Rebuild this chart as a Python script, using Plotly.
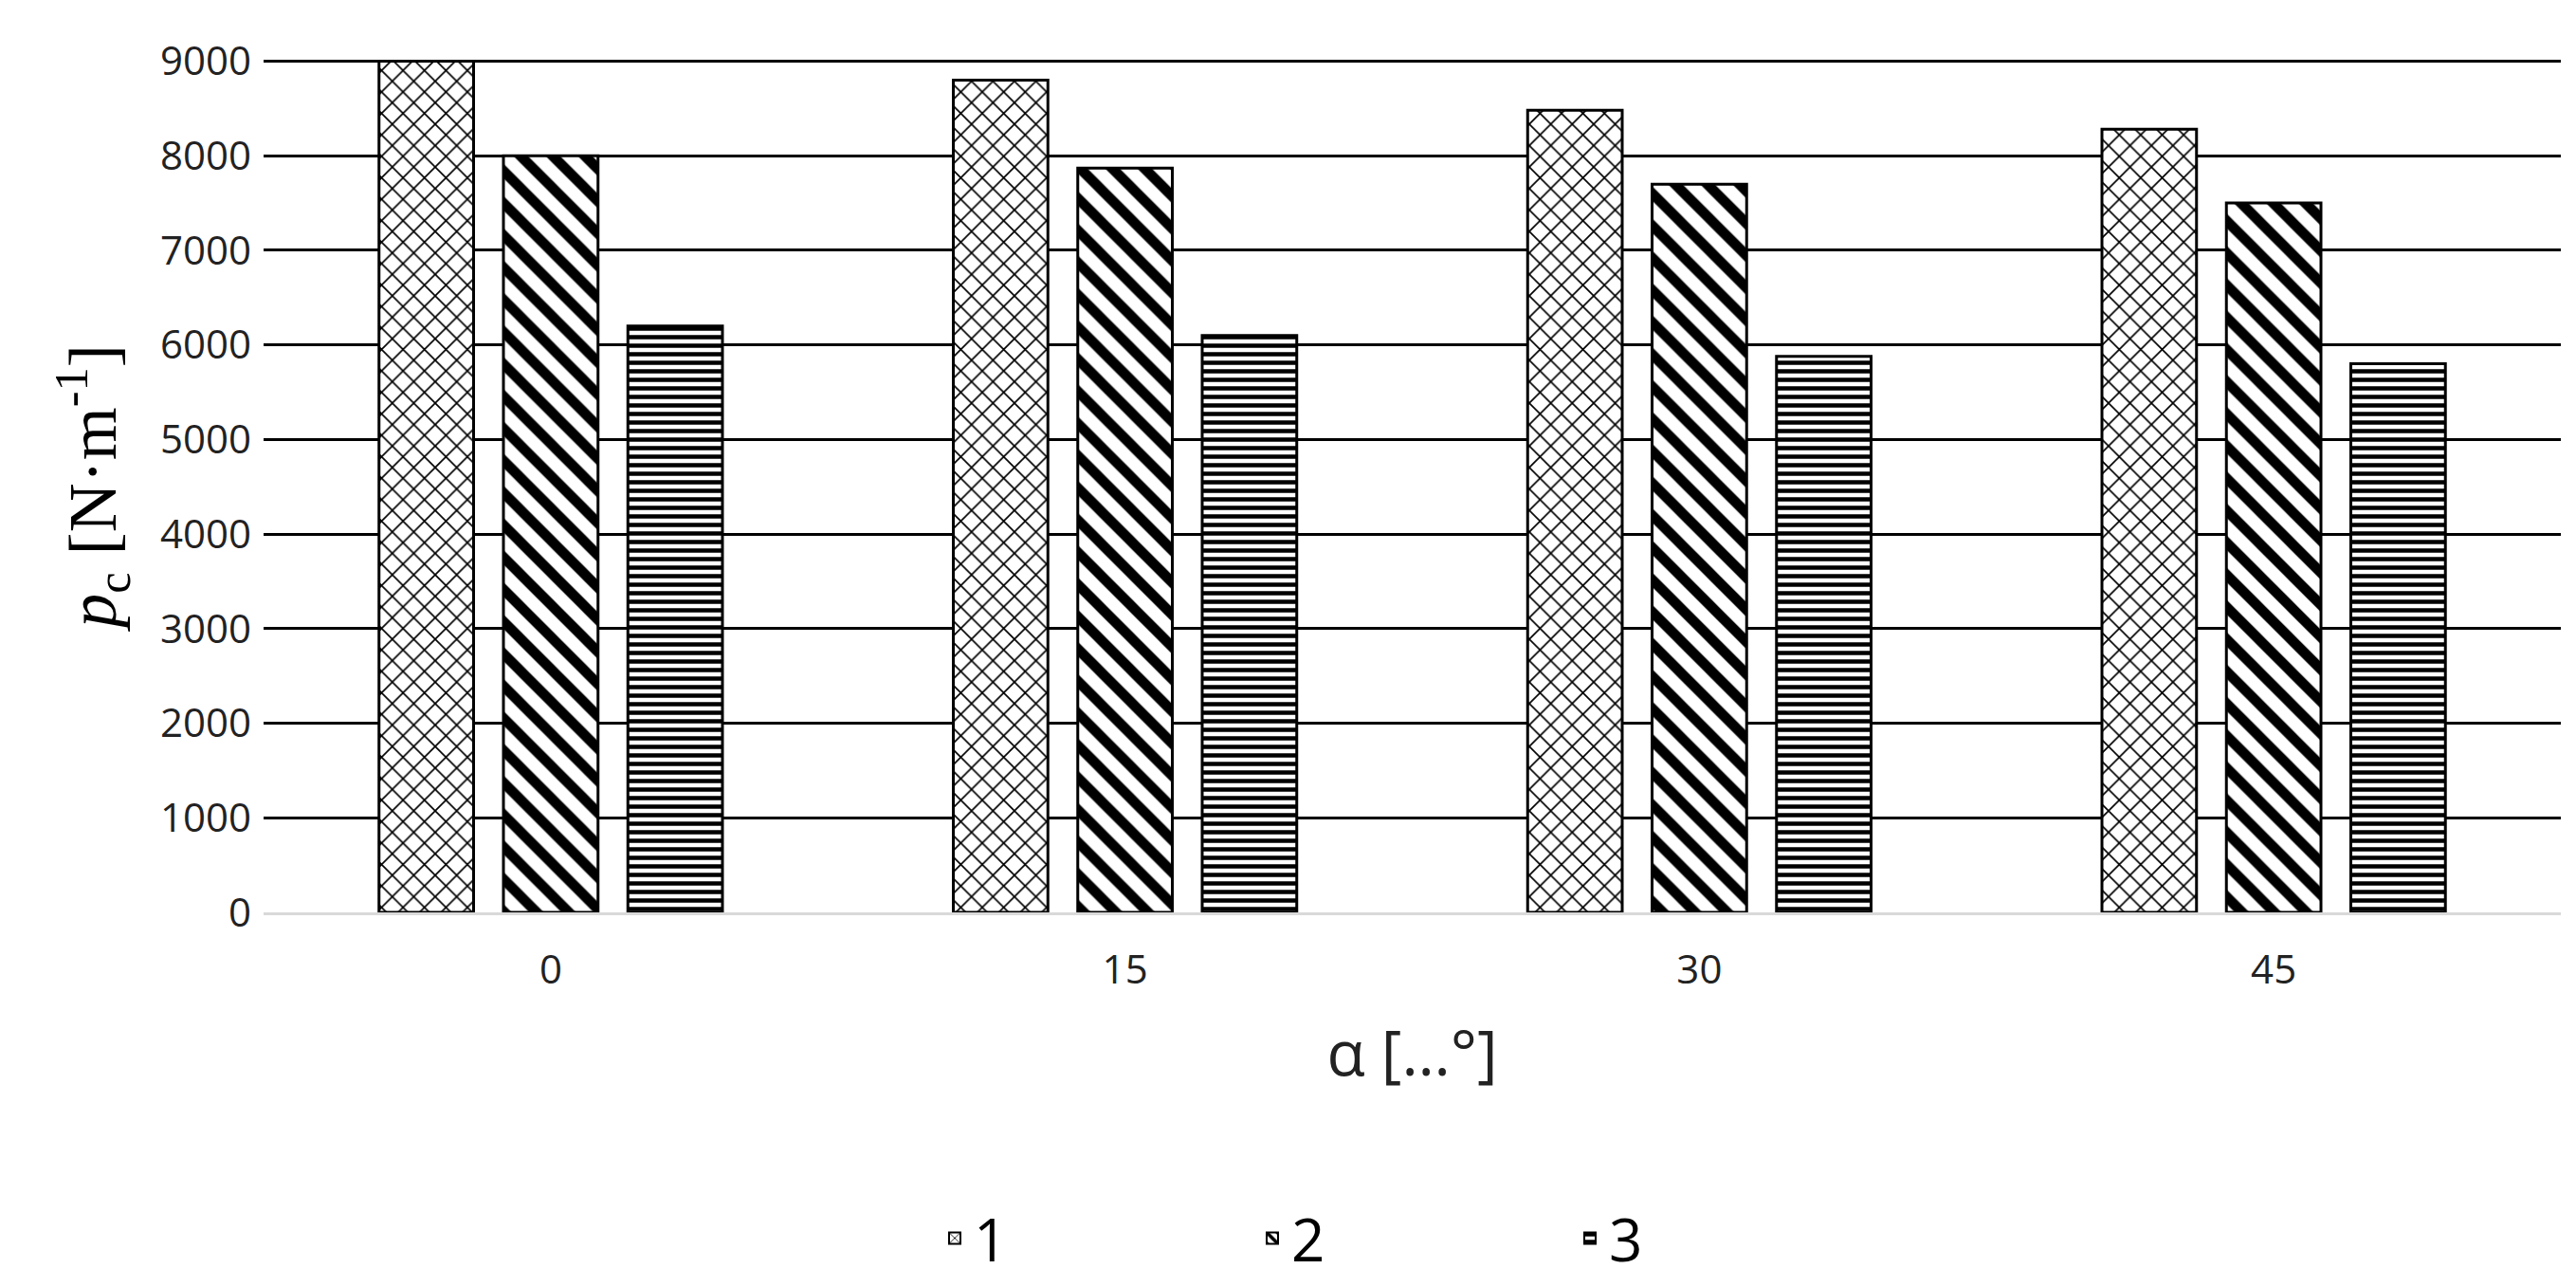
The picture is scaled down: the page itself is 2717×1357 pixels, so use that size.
import plotly.graph_objects as go

categories = ["0", "15", "30", "45"]
series_names = ["1", "2", "3"]
values_1 = [9000, 8800, 8480, 8280]
values_2 = [8000, 7870, 7700, 7500]
values_3 = [6200, 6100, 5880, 5800]
y_ticks = [0, 1000, 2000, 3000, 4000, 5000, 6000, 7000, 8000, 9000]

patterns = [dict(shape="x", size=16, solidity=0.2),
            dict(shape="\\", size=24, solidity=0.45),
            dict(shape="-", size=9, solidity=0.5)]

fig = go.Figure()
for name, vals, pat in zip(series_names, [values_1, values_2, values_3], patterns):
    fig.add_trace(go.Bar(
        x=categories, y=vals, name=name,
        marker=dict(color="white", line=dict(color="black", width=3),
                    pattern=dict(fgcolor="black", bgcolor="white", fgopacity=1,
                                 fillmode="overlay", **pat)),
    ))

fig.update_layout(
    width=2717, height=1357,
    margin=dict(l=270, r=24, t=55, b=377),
    plot_bgcolor="white", paper_bgcolor="white",
    barmode="group", bargap=0.35, bargroupgap=0.24,
    font=dict(family="Open Sans, Liberation Sans, sans-serif", color="#222"),
    legend=dict(orientation="h", x=0.5, xanchor="center", y=-0.33, yanchor="top",
                font=dict(size=62, color="black"), entrywidth=290, itemsizing="constant"),
)
fig.update_xaxes(
    type="category", showline=True, linecolor="#d9d9d9", linewidth=3,
    tickfont=dict(size=42), ticks="", ticklabelstandoff=22,
    title=dict(text="α […°]", font=dict(size=66, color="#222"), standoff=40),
)
fig.update_yaxes(
    range=[0, 9015], tickvals=y_ticks, showgrid=True, gridcolor="black", gridwidth=2.5,
    zeroline=False, tickfont=dict(size=42), ticklabelstandoff=12,
    title=dict(text="<i>p</i><sub>c</sub> [N·m<sup>-1</sup>]",
               font=dict(family="Liberation Serif, DejaVu Serif, serif", size=72, color="black"),
               standoff=22),
)

fig.write_html("out.html")
